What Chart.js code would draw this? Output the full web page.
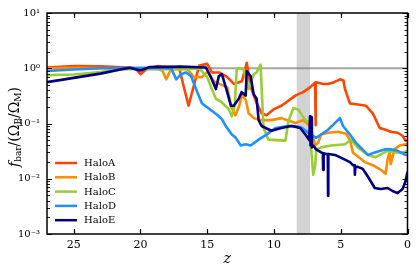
<!DOCTYPE html>
<html>
<head>
<meta charset="utf-8">
<script src="https://cdn.jsdelivr.net/npm/chart.js@4.4.1/dist/chart.umd.min.js"></script>
<style>
  body { margin: 0; background: #fff; }
</style>
</head>
<body>
<canvas id="myChart" width="416" height="269"></canvas>
<script>
// redshift (x) and baryon fraction (y) for each halo
const zA = [27, 25, 23, 21, 20.4, 20.0, 19.5, 18.7, 17.5, 17.1, 16.4, 15.6, 15.0, 14.65, 14.1, 13.5, 13.0, 12.4, 12.04, 11.75, 11.38, 10.93, 10.56, 10.04, 9.44, 8.4, 7.81, 7.3, 6.92, 6.89, 6.86, 6.3, 5.95, 5.5, 5.06, 4.8, 4.68, 4.31, 3.7, 3.12, 2.6, 2.08, 1.64, 1.2, 0.74, 0.37, 0.15, 0];
const fA = [1.03, 1.1, 1.08, 1.03, 1.0, 0.78, 0.98, 1.1, 1.0, 1.0, 0.21, 1.12, 1.2, 0.84, 0.84, 0.69, 0.52, 0.58, 1.26, 0.46, 0.26, 0.153, 0.141, 0.18, 0.21, 0.32, 0.37, 0.45, 0.55, 0.093, 0.56, 0.52, 0.52, 0.56, 0.63, 0.6, 0.42, 0.23, 0.22, 0.21, 0.153, 0.083, 0.077, 0.07, 0.068, 0.06, 0.049, 0.05];

const zB = [27, 25, 22, 20, 18.7, 18.35, 18.07, 17.7, 16.5, 16.0, 15.4, 15.0, 14.87, 14.5, 13.5, 13.2, 12.9, 12.6, 12.4, 12.1, 11.9, 11.5, 10.9, 10.2, 9.44, 8.4, 7.81, 7.29, 6.91, 6.69, 6.47, 5.95, 5.2, 4.61, 4.31, 4.09, 3.2, 2.6, 2.01, 1.64, 1.49, 1.34, 1.26, 0.97, 0.59, 0.15, 0];
const fB = [1.0, 1.02, 1.0, 0.97, 0.97, 0.9, 0.63, 0.98, 0.97, 0.69, 0.69, 0.85, 0.78, 0.58, 0.45, 0.2, 0.14, 0.21, 0.34, 0.26, 0.153, 0.125, 0.115, 0.115, 0.125, 0.102, 0.115, 0.09, 0.04, 0.045, 0.063, 0.068, 0.071, 0.065, 0.051, 0.03, 0.02, 0.0176, 0.0145, 0.0123, 0.0226, 0.03, 0.0184, 0.034, 0.04, 0.042, 0.043];

const zC = [27, 25, 23, 21.5, 20, 17, 15.6, 15.0, 14.72, 14.35, 13.98, 13.38, 13.16, 12.94, 12.79, 12.64, 12.27, 11.9, 11.52, 11.3, 11.0, 10.93, 10.78, 10.41, 9.14, 8.92, 8.55, 8.18, 7.66, 7.29, 7.21, 7.06, 6.91, 6.84, 6.47, 5.72, 4.68, 4.24, 3.72, 2.97, 2.38, 1.71, 1.49, 0.97, 0.37, 0];
const fC = [0.75, 0.77, 0.85, 0.95, 0.97, 0.95, 0.99, 0.69, 0.46, 0.28, 0.25, 0.18, 0.135, 0.21, 0.95, 1.0, 0.95, 0.42, 0.78, 0.84, 1.16, 0.46, 0.083, 0.051, 0.049, 0.11, 0.19, 0.18, 0.115, 0.102, 0.034, 0.0118, 0.0176, 0.034, 0.037, 0.04, 0.042, 0.051, 0.037, 0.027, 0.0246, 0.03, 0.032, 0.03, 0.03, 0.032];

const zD = [27, 25, 23, 20, 17.7, 17.32, 16.95, 16.58, 16.21, 15.84, 15.39, 14.65, 14.13, 13.9, 13.61, 13.16, 12.86, 12.49, 12.12, 11.75, 11.15, 10.56, 9.89, 8.92, 8.4, 7.96, 7.43, 6.84, 5.95, 5.06, 4.83, 4.31, 3.87, 2.97, 2.45, 1.71, 1.26, 0.74, 0.15, 0];
const fD = [0.89, 0.95, 1.0, 1.02, 1.0, 0.63, 0.78, 0.84, 0.72, 0.42, 0.23, 0.17, 0.135, 0.12, 0.09, 0.063, 0.055, 0.04, 0.042, 0.04, 0.051, 0.063, 0.083, 0.09, 0.09, 0.085, 0.068, 0.055, 0.077, 0.125, 0.09, 0.063, 0.045, 0.027, 0.03, 0.034, 0.034, 0.032, 0.027, 0.027];

const zE = [27, 25, 23, 21.5, 20.8, 20.0, 19.3, 17, 15.1, 15.02, 14.72, 14.35, 14.13, 13.9, 13.53, 13.23, 13.01, 12.64, 12.42, 12.12, 12.04, 11.75, 11.52, 11.3, 11.15, 10.93, 10.19, 9.44, 8.7, 8.03, 7.58, 7.36, 7.3, 7.26, 7.2, 7.16, 7.06, 6.84, 6.47, 6.34, 6.32, 6.28, 6.1, 5.97, 5.95, 5.93, 5.43, 4.61, 4.31, 4.09, 3.96, 3.94, 3.9, 3.72, 3.35, 2.97, 2.45, 2.01, 1.49, 1.12, 0.74, 0.37, 0.15, 0];
const fE = [0.56, 0.67, 0.8, 0.95, 1.02, 0.91, 1.05, 1.07, 1.03, 0.95, 0.69, 0.42, 0.72, 0.78, 0.39, 0.21, 0.21, 0.28, 0.37, 0.32, 0.88, 0.72, 0.34, 0.28, 0.115, 0.09, 0.074, 0.083, 0.09, 0.083, 0.06, 0.05, 0.135, 0.04, 0.13, 0.037, 0.04, 0.034, 0.03, 0.029, 0.0145, 0.029, 0.028, 0.028, 0.0049, 0.028, 0.027, 0.0217, 0.02, 0.0176, 0.0176, 0.0118, 0.0164, 0.0164, 0.0151, 0.011, 0.0068, 0.0065, 0.0068, 0.006, 0.0055, 0.0065, 0.009, 0.0134];

const haloNames = ['HaloA', 'HaloB', 'HaloC', 'HaloD', 'HaloE'];
const xTicks = [25, 20, 15, 10, 5, 0];
const yTicks = [0.001, 0.01, 0.1, 1, 10];
const bandZ = [7.3, 8.3];   // grey shaded redshift interval
const refLevel = 1;         // horizontal reference line

const colors = ['#ff4500', '#ff8c00', '#9acd32', '#1e90ff', '#000080'];
const serif = '"DejaVu Serif", "Liberation Serif", serif';

const pairs = (zs, fs) => zs.map((z, i) => ({ x: z, y: fs[i] }));
const series = [[zA, fA], [zB, fB], [zC, fC], [zD, fD], [zE, fE]];

const sup = { '0': '\u2070', '1': '\u00b9', '2': '\u00b2', '3': '\u00b3', '-': '\u207b' };
const powLabel = v => '10' + String(Math.round(Math.log10(v))).split('').map(c => sup[c]).join('');

const decor = {
  id: 'decor',
  beforeDatasetsDraw(chart) {
    const { ctx, chartArea: a, scales: { x, y } } = chart;
    ctx.save();
    const x1 = x.getPixelForValue(bandZ[0]), x2 = x.getPixelForValue(bandZ[1]);
    ctx.fillStyle = '#d3d3d3';
    ctx.fillRect(Math.min(x1, x2), a.top, Math.abs(x2 - x1), a.bottom - a.top);
    const y1 = y.getPixelForValue(refLevel);
    ctx.strokeStyle = 'rgba(128,128,128,0.7)';
    ctx.lineWidth = 2;
    ctx.beginPath(); ctx.moveTo(a.left, y1); ctx.lineTo(a.right, y1); ctx.stroke();
    ctx.restore();
  },
  afterDraw(chart) {
    const { ctx, chartArea: a, scales: { x, y } } = chart;
    ctx.save();
    ctx.strokeStyle = '#000';
    ctx.lineWidth = 1.5;
    ctx.strokeRect(a.left, a.top, a.right - a.left, a.bottom - a.top);

    // inward ticks on all four sides
    ctx.lineWidth = 1.2;
    ctx.beginPath();
    xTicks.forEach(t => {
      const px = Math.round(x.getPixelForValue(t)) + 0.5;
      ctx.moveTo(px, a.bottom); ctx.lineTo(px, a.bottom - 5);
      ctx.moveTo(px, a.top); ctx.lineTo(px, a.top + 5);
    });
    yTicks.forEach(t => {
      const py = Math.round(y.getPixelForValue(t)) + 0.5;
      ctx.moveTo(a.left, py); ctx.lineTo(a.left + 5, py);
      ctx.moveTo(a.right, py); ctx.lineTo(a.right - 5, py);
    });
    ctx.stroke();
    ctx.lineWidth = 0.9;
    ctx.beginPath();
    for (let d = -3; d < 1; d++) {
      for (let m = 2; m < 10; m++) {
        const py = Math.round(y.getPixelForValue(m * Math.pow(10, d))) + 0.5;
        ctx.moveTo(a.left, py); ctx.lineTo(a.left + 3, py);
        ctx.moveTo(a.right, py); ctx.lineTo(a.right - 3, py);
      }
    }
    ctx.stroke();

    // legend, lower left inside the axes
    ctx.font = '10px ' + serif;
    ctx.textBaseline = 'middle';
    ctx.fillStyle = '#000';
    chart.data.datasets.forEach((ds, i) => {
      const ly = 163 + i * 14.3;
      ctx.strokeStyle = ds.borderColor;
      ctx.lineWidth = 2.5;
      ctx.beginPath(); ctx.moveTo(55, ly); ctx.lineTo(77, ly); ctx.stroke();
      ctx.fillText(ds.label, 84, ly + 0.5);
    });

    // axis titles
    ctx.textBaseline = 'alphabetic';
    ctx.font = 'italic 14px ' + serif;
    ctx.textAlign = 'center';
    ctx.fillText('z', (a.left + a.right) / 2, 263);

    const parts = [
      ['f', 'italic 14px', 0], ['bar', '9px', 2.5], ['/(\u03a9', '14px', 0], ['B', '9px', 2.5],
      ['/\u03a9', '14px', 0], ['M', '9px', 2.5], [')', '14px', 0]
    ];
    ctx.textAlign = 'left';
    let total = 0;
    parts.forEach(p => { ctx.font = p[1] + ' ' + serif; total += ctx.measureText(p[0]).width; });
    ctx.translate(18.5, 127);
    ctx.rotate(-Math.PI / 2);
    let cx = -total / 2;
    parts.forEach(p => {
      ctx.font = p[1] + ' ' + serif;
      ctx.fillText(p[0], cx, p[2]);
      cx += ctx.measureText(p[0]).width;
    });
    ctx.restore();
  }
};

new Chart(document.getElementById('myChart'), {
  type: 'line',
  data: {
    datasets: series.map((s, i) => ({
      label: haloNames[i],
      data: pairs(s[0], s[1]),
      borderColor: colors[i],
      backgroundColor: colors[i],
      borderWidth: 2.6,
      pointRadius: 0,
      borderJoinStyle: 'round',
      tension: 0,
      order: series.length - i
    }))
  },
  options: {
    responsive: false,
    animation: false,
    devicePixelRatio: 1,
    layout: { padding: { top: 7, right: 6, left: 0, bottom: 0 } },
    scales: {
      x: {
        type: 'linear',
        reverse: true,
        min: 0,
        max: 27,
        grid: { display: false, drawTicks: false, tickLength: 0 },
        border: { display: false },
        afterFit: s => { s.height = 35; },
        afterBuildTicks: s => { s.ticks = xTicks.map(v => ({ value: v })); },
        ticks: { padding: 5, color: '#000', font: { family: serif, size: 11 }, maxRotation: 0 }
      },
      y: {
        type: 'logarithmic',
        min: 0.001,
        max: 10,
        grid: { display: false, drawTicks: false, tickLength: 0 },
        border: { display: false },
        afterFit: s => { s.width = 47; },
        afterBuildTicks: s => { s.ticks = yTicks.map(v => ({ value: v })); },
        ticks: { padding: 7, color: '#000', font: { family: serif, size: 10 }, autoSkip: false, callback: v => powLabel(v) }
      }
    },
    plugins: {
      legend: { display: false },
      tooltip: { enabled: false }
    }
  },
  plugins: [decor]
});
</script>
</body>
</html>
